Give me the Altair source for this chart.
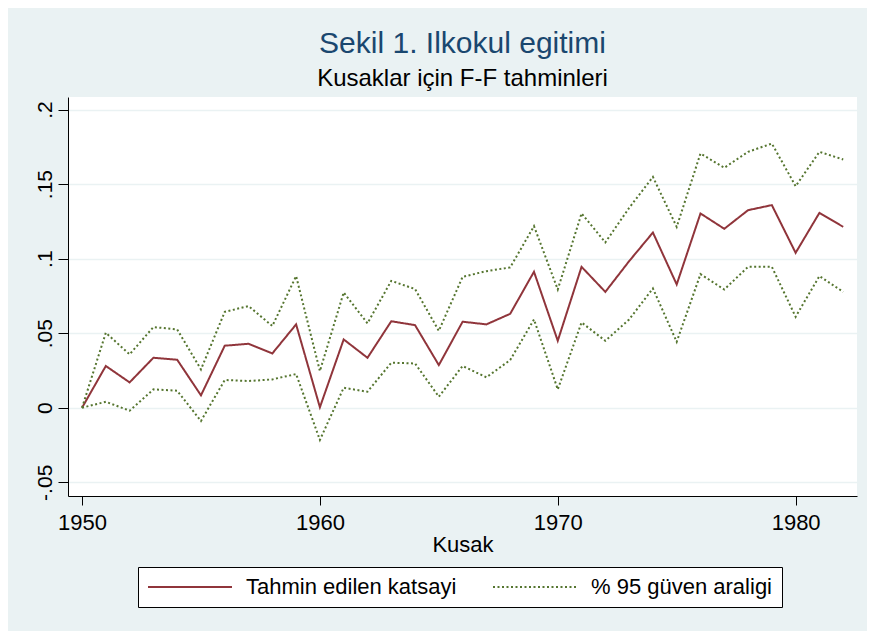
import altair as alt
import pandas as pd

years = list(range(1950, 1983))
estimate = [0.0, 0.028, 0.017, 0.0335, 0.0322, 0.0083, 0.0416, 0.0429, 0.0364, 0.0559,
            0.0003, 0.0458, 0.0335, 0.058, 0.0554, 0.0286, 0.0577, 0.0559, 0.063, 0.0912,
            0.0449, 0.0945, 0.0777, 0.0983, 0.1175, 0.0827, 0.1303, 0.12, 0.1325, 0.1359,
            0.1039, 0.1307, 0.1213]
upper = [0.0, 0.0503, 0.0358, 0.0541, 0.0525, 0.0257, 0.0643, 0.0682, 0.0548, 0.0883,
         0.0246, 0.0773, 0.0566, 0.0851, 0.0796, 0.0516, 0.0878, 0.0916, 0.0941, 0.1218,
         0.0793, 0.1303, 0.1109, 0.134, 0.1548, 0.1213, 0.1705, 0.1609, 0.1716, 0.1772,
         0.1486, 0.1716, 0.1665]
lower = [0.0, 0.004, -0.002, 0.0123, 0.0114, -0.0089, 0.0186, 0.0179, 0.019, 0.0226,
         -0.0216, 0.0134, 0.0107, 0.0302, 0.0297, 0.0074, 0.028, 0.0204, 0.032, 0.0592,
         0.0123, 0.0572, 0.0449, 0.0592, 0.08, 0.0442, 0.0896, 0.0793, 0.0945, 0.0945,
         0.061, 0.0883, 0.0777]

series_names = ["Tahmin edilen katsayi", "% 95 güven araligi"]
x_ticks = [1950, 1960, 1970, 1980]
y_ticks = [-0.05, 0, 0.05, 0.1, 0.15, 0.2]

rows = []
for grp, vals, name in [("est", estimate, series_names[0]),
                        ("upper", upper, series_names[1]),
                        ("lower", lower, series_names[1])]:
    for yr, v in zip(years, vals):
        rows.append({"Kusak": yr, "value": v, "series": name, "grp": grp})
df = pd.DataFrame(rows)

FONT = "Liberation Sans"
BG = "#EAF2F3"

chart = alt.Chart(df).mark_line(strokeWidth=2, clip=True).encode(
    x=alt.X("Kusak:Q",
            scale=alt.Scale(domain=[1949.41, 1982.58], nice=False, zero=False),
            axis=alt.Axis(values=x_ticks, format="d", title="Kusak", grid=False,
                          tickSize=9, labelPadding=7, labelFontSize=22,
                          titleFontSize=22, titleFontWeight="normal", titlePadding=1,
                          labelFont=FONT, titleFont=FONT, labelColor="#000",
                          titleColor="#000", domainColor="#000", tickColor="#000",
                          labelFlush=False)),
    y=alt.Y("value:Q",
            scale=alt.Scale(domain=[-0.0592, 0.2084], nice=False, zero=False),
            axis=alt.Axis(values=y_ticks, title=None, grid=True, gridColor=BG,
                          gridWidth=1.5, tickSize=10, labelPadding=7,
                          labelAngle=270, labelAlign="center", labelBaseline="alphabetic",
                          labelFontSize=21, labelFont=FONT, labelColor="#000",
                          domainColor="#000", tickColor="#000", labelFlush=False,
                          labelExpr="datum.value == 0 ? '0' : replace(toString(datum.value), '0.', '.')")),
    color=alt.Color("series:N",
                    scale=alt.Scale(domain=series_names, range=["#90353B", "#55752F"]),
                    legend=alt.Legend(title=None, orient="none", legendX=70, legendY=470,
                                      direction="horizontal", symbolType="stroke",
                                      symbolSize=7056, symbolStrokeWidth=2,
                                      clipHeight=22, labelFontSize=22, labelFont=FONT,
                                      labelColor="#000", labelOffset=13, columnPadding=35,
                                      labelLimit=500,
                                      padding=9, strokeColor="#000", fillColor="#FFFFFF",
                                      cornerRadius=0)),
    strokeDash=alt.StrokeDash("series:N",
                              scale=alt.Scale(domain=series_names, range=[[1, 0], [2, 2.5]]),
                              legend=alt.Legend(title=None)),
    detail="grp:N",
).properties(
    width=789,
    height=399,
    title=alt.TitleParams(
        text="Sekil 1. Ilkokul egitimi",
        subtitle="Kusaklar için F-F tahminleri",
        anchor="middle", font=FONT, fontSize=30, fontWeight="normal", color="#1A476F",
        subtitleFont=FONT, subtitleFontSize=24, subtitleColor="#000",
        subtitlePadding=8, offset=6),
    autosize=alt.AutoSizeParams(type="none"),
    padding={"left": 60, "top": 89, "right": 10, "bottom": 135},
    background=BG,
).configure_view(fill="#FFFFFF", stroke=None)

chart.save("out.html", embed_options={"renderer": "svg", "actions": False})
